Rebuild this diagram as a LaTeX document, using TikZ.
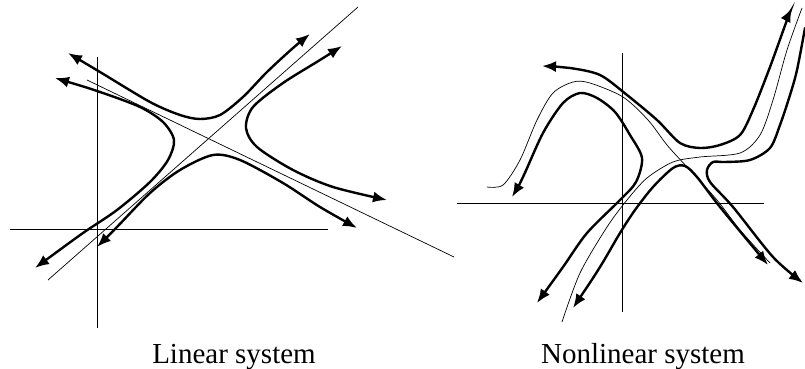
\documentclass[tikz,border=0pt]{standalone}
\usepackage{fontspec}
\setmainfont{Liberation Serif}
\usetikzlibrary{arrows.meta}
\begin{document}
\begin{tikzpicture}[x=1pt,y=-1pt,
  axis/.style={line width=0.9pt},
  guide/.style={line width=0.7pt},
  traj/.style={line width=2.4pt,line cap=round},
  tip/.style={-{Latex[length=14pt,width=11pt]}},
  tips/.style={{Latex[length=14pt,width=11pt]}-{Latex[length=14pt,width=11pt]}},
  lbl/.style={font=\fontsize{29}{32}\selectfont,anchor=base,inner sep=0pt}]
\useasboundingbox (0,0) rectangle (805,369);
% ---------- Linear system ----------
\coordinate (LVt) at (97,57); \coordinate (LVb) at (97,328);
\coordinate (LHl) at (10,229); \coordinate (LHr) at (328,229);
\draw[axis] (LVt) -- (LVb);
\draw[axis] (LHl) -- (LHr);
\coordinate (LA1) at (48,280); \coordinate (LA2) at (358,7);
\coordinate (LB1) at (87,80); \coordinate (LB2) at (454,257);
\draw[guide] (LA1) -- (LA2);
\draw[guide] (LB1) -- (LB2);
% upper branch
\draw[traj,tips] plot[smooth] coordinates {(68,53) (100,72) (150,102) (180,115) (200,119) (220,115) (243,97) (267,72) (293,48) (310,34)};
% left branch
\draw[traj,tips] plot[smooth] coordinates {(55,78) (100,92) (140,107) (163,122) (174,140) (168,160) (150,182) (117,210) (83,233) (50,257) (35,268)};
% lower branch
\draw[traj,tips] plot[smooth] coordinates {(97,247) (117,227) (150,193) (180,170) (213,155) (240,160) (283,183) (320,207) (357,228)};
% right branch
\draw[traj,tips] plot[smooth] coordinates {(342,46) (320,60) (283,83) (253,107) (246,128) (257,147) (293,170) (333,187) (387,200)};
% ---------- Nonlinear system ----------
\coordinate (NVt) at (622,53); \coordinate (NVb) at (622,312);
\coordinate (NHl) at (457,203); \coordinate (NHr) at (764,203);
\draw[axis] (NVt) -- (NVb);
\draw[axis] (NHl) -- (NHr);
% thin separatrices
\draw[guide] plot[smooth] coordinates {(562,322) (580,273) (607,227) (627,200) (647,178) (673,162) (700,157) (740,153) (760,135) (773,100) (787,50) (802,8)};
\draw[guide] plot[smooth] coordinates {(487,187) (503,185) (520,160) (537,120) (553,93) (573,82) (590,83) (623,97) (648,120) (667,145) (687,167) (717,200) (740,230) (770,263)};
% thick trajectories
\draw[traj,tips] plot[smooth] coordinates {(542,66) (570,68) (600,75) (627,95) (657,120) (680,143) (700,148) (720,145) (740,135) (753,110) (770,67) (787,20) (792,8)};
\draw[traj,tips] plot[smooth] coordinates {(512,197) (523,177) (543,133) (563,103) (580,93) (597,98) (615,112) (630,135) (642,158) (636,182) (620,200) (587,233) (563,267) (537,303)};
\draw[traj,tips] plot[smooth] coordinates {(573,308) (600,267) (620,233) (635,210) (653,187) (673,168) (685,166) (697,177) (720,207) (768,265)};
\draw[traj,tip] plot[smooth] coordinates {(805,28) (797,70) (790,95) (780,125) (770,148) (750,160) (725,162) (713,162) (707,170) (710,182) (733,207) (773,257) (803,283)};
% ---------- labels ----------
\node[lbl] (linlbl) at (234,363) {Linear system};
\node[lbl] (nonlbl) at (643,363) {Nonlinear system};
\end{tikzpicture}
\end{document}
